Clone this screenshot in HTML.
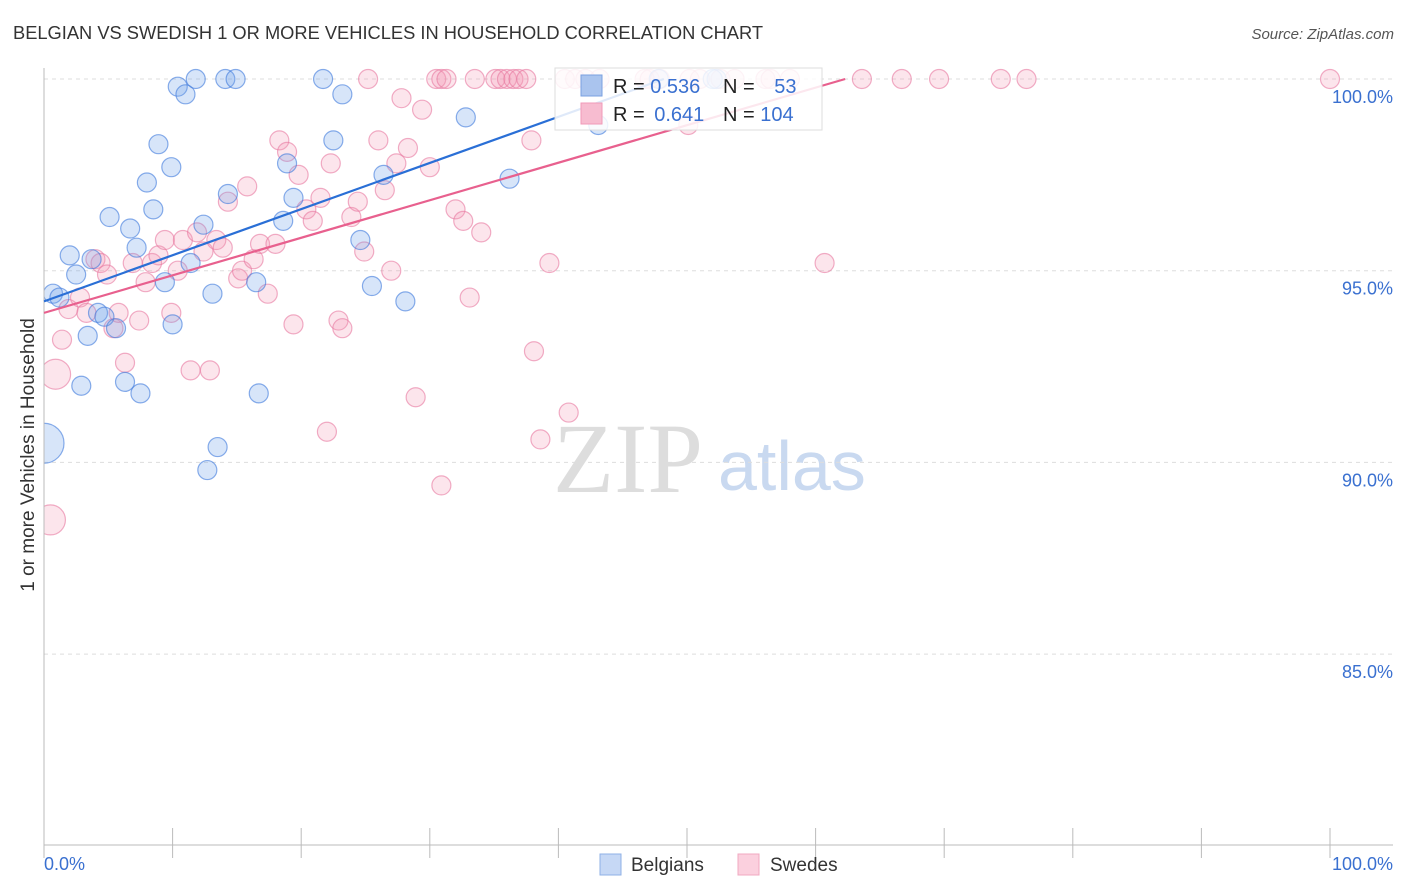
<!DOCTYPE html>
<html><head><meta charset="utf-8"><style>
body{margin:0;background:#fff;font-family:"Liberation Sans",sans-serif;}
svg{display:block}
</style></head><body>
<svg id="chart" width="1406" height="892">
<text x="13" y="39" font-size="18.3" fill="#333">BELGIAN VS SWEDISH 1 OR MORE VEHICLES IN HOUSEHOLD CORRELATION CHART</text>
<text x="1394" y="39" font-size="15" fill="#555" font-style="italic" text-anchor="end">Source: ZipAtlas.com</text>
<g>
<text x="553" y="492" font-size="100" font-family="Liberation Serif,serif" fill="#ddd">ZIP</text>
<text x="718" y="490" font-size="70" fill="#c9d9f0">atlas</text>
</g>
<g id="grid"></g>
<g id="marks"></g>
<rect x="0" y="50" width="43.5" height="800" fill="#fff"/>
<g id="axes"></g>
<g id="lines"></g>
<text transform="translate(34,455) rotate(-90)" font-size="19" fill="#333" text-anchor="middle">1 or more Vehicles in Household</text>
<g>
<rect x="555" y="68" width="267" height="62" fill="#fff" fill-opacity="0.85" stroke="#ddd"/>
<rect x="581" y="75" width="21" height="21" fill="#aac4ee" stroke="#7aa0e0"/>
<rect x="581" y="103" width="21" height="21" fill="#f7bcd0" stroke="#f09ab8"/>
<text x="613" y="93" font-size="20" fill="#222">R = <tspan fill="#3a70d0">0.536</tspan></text>
<text x="723" y="93" font-size="20" fill="#222">N = <tspan fill="#3a70d0" dx="14">53</tspan></text>
<text x="613" y="121" font-size="20" fill="#222">R = <tspan fill="#3a70d0" dx="4">0.641</tspan></text>
<text x="723" y="121" font-size="20" fill="#222">N = <tspan fill="#3a70d0">104</tspan></text>
</g>
<g>
<rect x="600" y="854" width="21" height="21" fill="#c6d8f5" stroke="#8fb0e6"/>
<text x="631" y="871" font-size="19" fill="#333">Belgians</text>
<rect x="738" y="854" width="21" height="21" fill="#fbd0de" stroke="#f0a8c0"/>
<text x="770" y="871" font-size="19" fill="#333">Swedes</text>
</g>
</svg>
<script>
const yTicks=[100,95,90,85];
const yTickLabels=["100.0%","95.0%","90.0%","85.0%"];
const xTicks=[0,10,20,30,40,50,60,70,80,90,100];
const xEndLabels=["0.0%","100.0%"];
const blueX=[0.7,1.2,2.0,2.5,2.9,3.4,3.7,4.2,4.7,5.1,5.6,6.3,6.7,7.2,7.5,8.0,8.5,8.9,9.4,9.9,10.0,10.4,11.0,11.4,11.8,12.4,12.7,13.1,13.5,14.1,14.3,14.9,16.5,16.7,18.6,18.9,19.4,21.7,23.2,22.5,24.6,25.5,26.4,28.1,32.8,36.2,43.1,52.3,47.8,52.0,0.0];
const blueY=[94.4,94.3,95.4,94.9,92.0,93.3,95.3,93.9,93.8,96.4,93.5,92.1,96.1,95.6,91.8,97.3,96.6,98.3,94.7,97.7,93.6,99.8,99.6,95.2,100,96.2,89.8,94.4,90.4,100,97.0,100,94.7,91.8,96.3,97.8,96.9,100,99.6,98.4,95.8,94.6,97.5,94.2,99.0,97.4,98.8,100,100,100,90.5];
const pinkX=[0.5,0.9,1.4,1.9,2.8,3.3,4.0,4.4,4.9,5.4,5.8,6.3,6.9,7.4,7.9,8.4,8.9,9.4,9.9,10.4,10.8,11.4,11.9,12.4,12.9,13.4,13.9,14.3,15.1,15.4,15.8,16.3,16.8,17.4,18.0,18.3,18.9,19.4,19.8,20.4,20.9,21.5,22.0,22.3,22.9,23.2,23.9,24.4,24.9,25.2,26.0,26.5,27.0,27.4,27.8,28.3,28.9,29.4,30.0,30.5,30.9,31.3,30.9,32.0,32.6,33.1,34.0,33.5,35.1,35.5,36.0,36.5,36.9,37.5,37.9,38.1,38.6,39.3,40.8,40.5,41.3,42.1,43.2,46.7,47.1,47.9,50.2,51.0,52.6,53.7,56.1,56.5,58.0,60.7,63.6,66.7,69.6,74.4,76.4,100,50.1];
const pinkY=[88.5,92.3,93.2,94.0,94.3,93.9,95.3,95.2,94.9,93.5,93.9,92.6,95.2,93.7,94.7,95.2,95.4,95.8,93.9,95.0,95.8,92.4,96.0,95.5,92.4,95.8,95.6,96.8,94.8,95.0,97.2,95.3,95.7,94.4,95.7,98.4,98.1,93.6,97.5,96.6,96.3,96.9,90.8,97.8,93.7,93.5,96.4,96.8,95.5,100,98.4,97.1,95.0,97.8,99.5,98.2,91.7,99.2,97.7,100,100,100,89.4,96.6,96.3,94.3,96.0,100,100,100,100,100,100,100,98.4,92.9,90.6,95.2,91.3,100,100,100,100,100,100,100,100,100,100,100,100,100,100,95.2,100,100,100,100,100,100,98.8];
const blueTrend=[[0,94.2],[48.2,100]];
const pinkTrend=[[0,93.9],[62.3,100]];
const NS='http://www.w3.org/2000/svg';
const X0=44,X1=1330,Y100=79,PX5=191.7;
function sx(v){return X0+(X1-X0)*v/100;}
function sy(v){return Y100+(100-v)*PX5/5;}
function mk(tag,attrs,parent){const e=document.createElementNS(NS,tag);for(const k in attrs)e.setAttribute(k,attrs[k]);parent.appendChild(e);return e;}
const grid=document.getElementById('grid'),axes=document.getElementById('axes'),marks=document.getElementById('marks'),lines=document.getElementById('lines');
yTicks.forEach((t,i)=>{
 const l=mk('line',{x1:44,x2:1393,y1:sy(t),y2:sy(t),stroke:'#ddd','stroke-dasharray':'4,4'},grid);
 
 
 const tx=mk('text',{x:1393,y:sy(t)+24,'font-size':18,fill:'#3a70d0','text-anchor':'end'},axes);
 tx.textContent=yTickLabels[i];
 
 
});
let a=mk('line',{x1:44,x2:44,y1:68,y2:845,stroke:'#bbb'},axes);


a=mk('line',{x1:44,x2:1393,y1:845,y2:845,stroke:'#bbb'},axes);


xTicks.forEach(t=>{
 const l=mk('line',{x1:sx(t),x2:sx(t),y1:828,y2:858,stroke:'#bbb'},axes);
 
 
});
let xl=mk('text',{x:44,y:870,'font-size':18,fill:'#3a70d0'},axes);xl.textContent=xEndLabels[0];


xl=mk('text',{x:1393,y:870,'font-size':18,fill:'#3a70d0','text-anchor':'end'},axes);xl.textContent=xEndLabels[1];


function pts(xs,ys,fill,stroke,name){
 xs.forEach((x,i)=>{
  const big=(name==='belgian'&&x===0)||(name==='swede'&&x<1);
  const c=mk('circle',{cx:sx(x),cy:sy(ys[i]),r:big?(x===0?20:15):9.5,fill:fill,stroke:stroke,'stroke-width':1.2},marks);
  
  
 });
}
pts(pinkX,pinkY,'rgba(244,150,180,0.25)','rgba(232,120,160,0.6)','swede');
pts(blueX,blueY,'rgba(110,160,235,0.28)','rgba(60,120,220,0.6)','belgian');
let tl=mk('line',{x1:sx(blueTrend[0][0]),y1:sy(blueTrend[0][1]),x2:sx(blueTrend[1][0]),y2:sy(blueTrend[1][1]),stroke:'#2a6fd6','stroke-width':2.2},lines);


tl=mk('line',{x1:sx(pinkTrend[0][0]),y1:sy(pinkTrend[0][1]),x2:sx(pinkTrend[1][0]),y2:sy(pinkTrend[1][1]),stroke:'#e8608e','stroke-width':2.2},lines);


</script>
</body></html>
